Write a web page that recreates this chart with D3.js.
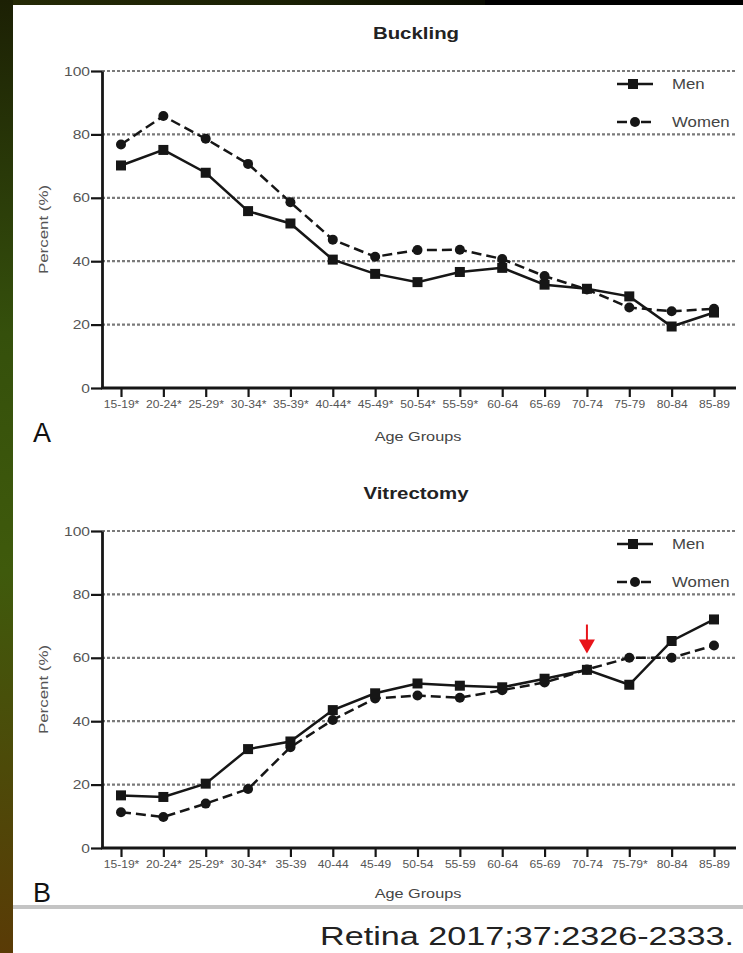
<!DOCTYPE html>
<html>
<head>
<meta charset="utf-8">
<script src="https://cdn.jsdelivr.net/npm/d3@7/dist/d3.min.js"></script>
<style>
  html, body { margin: 0; padding: 0; background: #000; }
  svg { display: block; }
  text { font-family: "Liberation Sans", Arial, sans-serif; }
</style>
</head>
<body>
<div id="chart"></div>
<script>
// age group categories (asterisk = significant difference)
const ageGroupsBuckling = ["15-19*", "20-24*", "25-29*", "30-34*", "35-39*", "40-44*", "45-49*", "50-54*",
  "55-59*", "60-64", "65-69", "70-74", "75-79", "80-84", "85-89"];
const ageGroupsVitrectomy = ["15-19*", "20-24*", "25-29*", "30-34*", "35-39", "40-44", "45-49", "50-54",
  "55-59", "60-64", "65-69", "70-74", "75-79*", "80-84", "85-89"];

// percent values
const bucklingMen = [70.2, 75.1, 67.9, 55.8, 51.9, 40.5, 36.0, 33.4, 36.6, 37.9, 32.6, 31.3, 28.9, 19.4, 23.8];
const bucklingWomen = [76.8, 85.8, 78.6, 70.7, 58.6, 46.8, 41.4, 43.5, 43.6, 40.7, 35.3, 31.1, 25.4, 24.2, 25.0];
const vitrectomyMen = [16.6, 16.1, 20.3, 31.2, 33.6, 43.5, 48.8, 51.9, 51.2, 50.7, 53.4, 56.2, 51.5, 65.3, 72.1];
const vitrectomyWomen = [11.3, 9.8, 14.0, 18.6, 31.8, 40.4, 47.2, 48.1, 47.4, 49.8, 52.2, 56.3, 60.0, 60.0, 63.9];

const yTicks = [0, 20, 40, 60, 80, 100];
const seriesNames = ["Men", "Women"];
const highlightGroup = "70-74"; // red arrow in panel B

const W = 743, H = 953;
const ink = "#161616";

const svg = d3.select("#chart").append("svg")
  .attr("width", W)
  .attr("height", H);

// background: slide edge gradient + white figure
const defs = svg.append("defs");
const edge = defs.append("linearGradient")
  .attr("id", "edge").attr("x1", 0).attr("y1", 0).attr("x2", 0).attr("y2", 1);
edge.append("stop").attr("offset", "0%").attr("stop-color", "#1c2004");
edge.append("stop").attr("offset", "35%").attr("stop-color", "#35500c");
edge.append("stop").attr("offset", "60%").attr("stop-color", "#3f5a0c");
edge.append("stop").attr("offset", "100%").attr("stop-color", "#5a3b06");
const topEdge = defs.append("linearGradient")
  .attr("id", "topEdge").attr("x1", 0).attr("y1", 0).attr("x2", 1).attr("y2", 0);
topEdge.append("stop").attr("offset", "0%").attr("stop-color", "#252a06");
topEdge.append("stop").attr("offset", "60%").attr("stop-color", "#1a2004");
topEdge.append("stop").attr("offset", "100%").attr("stop-color", "#0a0c02");

svg.append("rect").attr("width", W).attr("height", H).attr("fill", "#000");
svg.append("rect").attr("x", 0).attr("y", 0).attr("width", 485).attr("height", 6).attr("fill", "url(#topEdge)");
svg.append("rect").attr("x", 0).attr("y", 0).attr("width", 13).attr("height", H).attr("fill", "url(#edge)");
svg.append("rect").attr("x", 13).attr("y", 5).attr("width", W - 13).attr("height", H - 5).attr("fill", "#fff");
svg.append("rect").attr("x", 13).attr("y", 905).attr("width", W - 13).attr("height", 4).attr("fill", "#c4c4c4");

// widen text horizontally like the scanned figure
function stretch(sel, k) {
  sel.each(function () {
    const w = this.getComputedTextLength();
    d3.select(this).attr("textLength", w * k).attr("lengthAdjust", "spacingAndGlyphs");
  });
}

function drawPanel(opts) {
  const left = 102, right = 736;
  const top = opts.top, bottom = opts.top + 317;
  const g = svg.append("g");

  const x = d3.scalePoint()
    .domain(opts.groups)
    .range([121, 714]);
  const y = d3.scaleLinear()
    .domain([0, 100])
    .range([bottom, top]);

  // title
  g.append("text")
    .attr("x", 416)
    .attr("y", top - 32)
    .attr("text-anchor", "middle")
    .attr("font-size", "17px")
    .attr("font-weight", "bold")
    .attr("fill", "#222")
    .text(opts.title)
    .call(stretch, 1.2);

  // dotted gridlines
  g.selectAll(".grid")
    .data(yTicks.filter(d => d > 0))
    .enter()
    .append("line")
    .attr("x1", left)
    .attr("x2", right)
    .attr("y1", d => y(d))
    .attr("y2", d => y(d))
    .attr("stroke", "#7a7a7a")
    .attr("stroke-width", 2.2)
    .attr("stroke-dasharray", "3,2");

  // y axis
  const yAxis = g.append("g")
    .attr("transform", `translate(${left},0)`)
    .call(d3.axisLeft(y).tickValues(yTicks).tickSize(11).tickSizeOuter(0).tickPadding(1));
  yAxis.select(".domain").attr("stroke", ink).attr("stroke-width", 2.8);
  yAxis.selectAll(".tick line").attr("stroke", ink).attr("stroke-width", 2.2);
  yAxis.selectAll(".tick text")
    .attr("font-size", "13px")
    .attr("fill", "#555")
    .attr("font-family", "Liberation Sans, Arial, sans-serif")
    .call(stretch, 1.2);

  // x axis
  const xAxis = g.append("g")
    .attr("transform", `translate(0,${bottom})`)
    .call(d3.axisBottom(x).tickSize(9).tickSizeOuter(0).tickPadding(3));
  xAxis.select(".domain").remove();
  xAxis.selectAll(".tick line").attr("stroke", ink).attr("stroke-width", 2.2);
  xAxis.selectAll(".tick text")
    .attr("font-size", "11px")
    .attr("fill", "#555")
    .attr("font-family", "Liberation Sans, Arial, sans-serif")
    .call(stretch, 1.1);
  g.append("line")
    .attr("x1", left - 1).attr("x2", right)
    .attr("y1", bottom).attr("y2", bottom)
    .attr("stroke", ink).attr("stroke-width", 2.8);

  // axis titles
  g.append("text")
    .attr("transform", `translate(43,${(top + bottom) / 2}) rotate(-90)`)
    .attr("text-anchor", "middle")
    .attr("dy", "0.35em")
    .attr("font-size", "13px")
    .attr("fill", "#555")
    .text("Percent (%)")
    .call(stretch, 1.3);

  g.append("text")
    .attr("x", 418)
    .attr("y", bottom + opts.xTitleGap)
    .attr("text-anchor", "middle")
    .attr("font-size", "13px")
    .attr("fill", "#444")
    .text("Age Groups")
    .call(stretch, 1.25);

  // panel letter
  g.append("text")
    .attr("x", 33)
    .attr("y", bottom + opts.letterGap)
    .attr("font-size", "27px")
    .attr("fill", "#111")
    .text(opts.letter);

  // lines
  const line = d3.line()
    .x((d, i) => x(opts.groups[i]))
    .y(d => y(d));

  g.append("path")
    .datum(opts.women)
    .attr("d", line)
    .attr("fill", "none")
    .attr("stroke", ink)
    .attr("stroke-width", 2.5)
    .attr("stroke-dasharray", "10,5");

  g.append("path")
    .datum(opts.men)
    .attr("d", line)
    .attr("fill", "none")
    .attr("stroke", ink)
    .attr("stroke-width", 2.5);

  // markers
  g.selectAll(".women-pt")
    .data(opts.women)
    .enter()
    .append("circle")
    .attr("cx", (d, i) => x(opts.groups[i]))
    .attr("cy", d => y(d))
    .attr("r", 5)
    .attr("fill", ink);

  g.selectAll(".men-pt")
    .data(opts.men)
    .enter()
    .append("rect")
    .attr("x", (d, i) => x(opts.groups[i]) - 5)
    .attr("y", d => y(d) - 5)
    .attr("width", 10)
    .attr("height", 10)
    .attr("fill", ink);

  // legend
  const legend = g.append("g");
  seriesNames.forEach((name, i) => {
    const ly = top + 13 + i * 38;
    legend.append("line")
      .attr("x1", 617).attr("x2", 653)
      .attr("y1", ly).attr("y2", ly)
      .attr("stroke", ink)
      .attr("stroke-width", 2.5)
      .attr("stroke-dasharray", i === 0 ? null : "10,4,6,4");
    if (i === 0) {
      legend.append("rect")
        .attr("x", 628).attr("y", ly - 5)
        .attr("width", 10).attr("height", 10)
        .attr("fill", ink);
    } else {
      legend.append("circle")
        .attr("cx", 635).attr("cy", ly)
        .attr("r", 5)
        .attr("fill", ink);
    }
    legend.append("text")
      .attr("x", 672)
      .attr("y", ly)
      .attr("dy", "0.36em")
      .attr("font-size", "14px")
      .attr("fill", "#444")
      .text(name)
      .call(stretch, 1.2);
  });

  return { x, y, g };
}

drawPanel({
  title: "Buckling", letter: "A", top: 71,
  groups: ageGroupsBuckling, men: bucklingMen, women: bucklingWomen,
  xTitleGap: 53, letterGap: 54
});

const panelB = drawPanel({
  title: "Vitrectomy", letter: "B", top: 531,
  groups: ageGroupsVitrectomy, men: vitrectomyMen, women: vitrectomyWomen,
  xTitleGap: 50, letterGap: 54
});

// red arrow annotation above the 70-74 group in panel B
const ai = ageGroupsVitrectomy.indexOf(highlightGroup);
const ax = panelB.x(highlightGroup);
const tipY = panelB.y(Math.max(vitrectomyMen[ai], vitrectomyWomen[ai])) - 16;
panelB.g.append("line")
  .attr("x1", ax).attr("x2", ax)
  .attr("y1", tipY - 29).attr("y2", tipY - 12)
  .attr("stroke", "#e8141a")
  .attr("stroke-width", 2);
panelB.g.append("path")
  .attr("d", `M${ax - 8},${tipY - 14} L${ax + 8},${tipY - 14} L${ax},${tipY} Z`)
  .attr("fill", "#e8141a");

// citation
svg.append("text")
  .attr("x", 320)
  .attr("y", 945)
  .attr("font-size", "25px")
  .attr("font-family", "'Noto Sans CJK KR', 'DejaVu Sans', sans-serif")
  .attr("font-weight", 300)
  .attr("fill", "#222")
  .attr("textLength", 414)
  .attr("lengthAdjust", "spacingAndGlyphs")
  .text("Retina 2017;37:2326-2333.");
</script>
</body>
</html>
